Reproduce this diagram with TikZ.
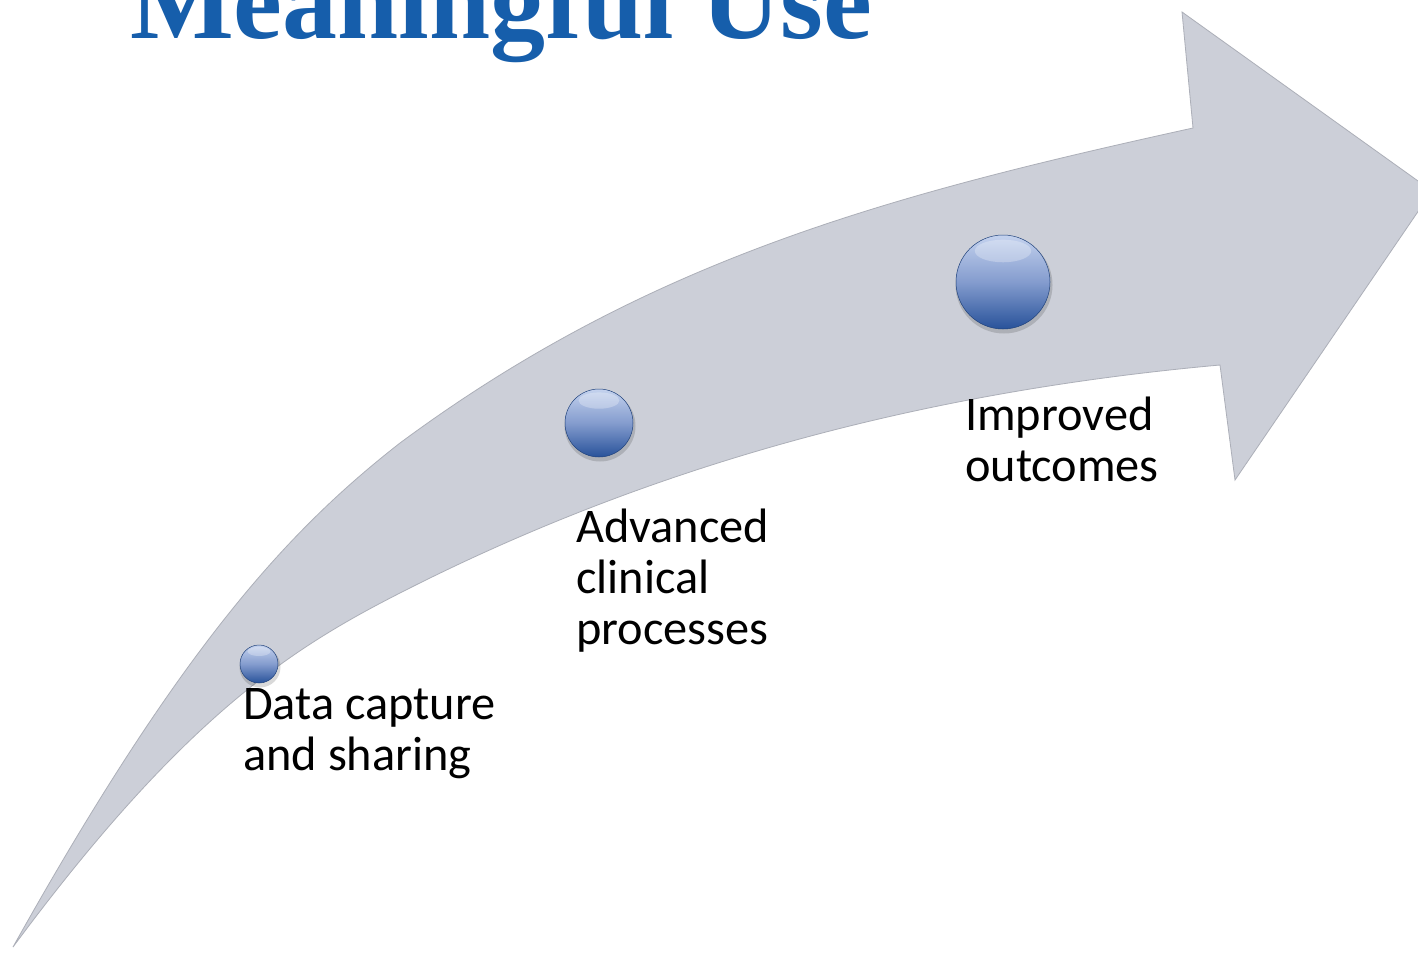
\documentclass[tikz,border=0pt]{standalone}
\usepackage{fontspec}
\setmainfont{Carlito}
\newfontfamily\titlefont{Liberation Serif}
\definecolor{arrowgray}{RGB}{204,207,216}
\definecolor{arrowedge}{RGB}{172,175,184}
\definecolor{titleblue}{RGB}{22,94,171}
\definecolor{orbtop}{RGB}{196,210,238}
\definecolor{orbmid}{RGB}{132,156,206}
\definecolor{orbbot}{RGB}{40,82,154}
\newcommand\myorb[4]{%
  \fill[black,opacity=0.15] (#2+1,#3+3) circle (#4+1.5);
  \node[orbstyle, minimum size=2*#4 bp] (#1) at (#2,#3) {};
  \fill[white,opacity=0.28] (#2,#3-0.66*#4) ellipse ({0.6*#4} and {0.24*#4});
}
\begin{document}
\begin{tikzpicture}[x=1bp,y=-1bp,
  orbstyle/.style={circle, inner sep=0pt, top color=orbtop, bottom color=orbbot, middle color=orbmid, draw=orbbot!80!black, line width=0.5bp},
  lbltext/.style={anchor=base west, inner sep=0pt, align=left, font=\fontsize{48.5}{51}\selectfont, text=black},
  titletext/.style={anchor=base west, inner sep=0pt, text=titleblue}]
\useasboundingbox (0,0) rectangle (1418,953);
\clip (0,0) rectangle (1418,953);
\fill[white] (0,0) rectangle (1418,953);
% title
\node[titletext] (title) at (130,38) {\resizebox{742bp}{!}{\titlefont\bfseries Meaningful Use}};
% curved arrow
\path[fill=arrowgray, draw=arrowedge, line width=0.8bp, line join=miter]
  (13,947) .. controls (183,643) and (290,529) .. (400,443)
  .. controls (650,258) and (893,194) .. (1193,128)
  -- (1182,12) -- (1432,191) -- (1235,480) -- (1220,365)
  .. controls (920,392) and (650,465.5) .. (400,593)
  .. controls (290,649) and (183,717.5) .. (13,947) -- cycle;
% spheres
\myorb{s1}{259}{664}{19}
\myorb{s2}{599}{423}{34}
\myorb{s3}{1003}{282}{47}
% labels
\node[lbltext] (t1) at (243,770) {Data capture\\and sharing};
\node[lbltext] (t2) at (576,644) {Advanced\\clinical\\processes};
\node[lbltext] (t3) at (965,481) {Improved\\outcomes};
\end{tikzpicture}
\end{document}
